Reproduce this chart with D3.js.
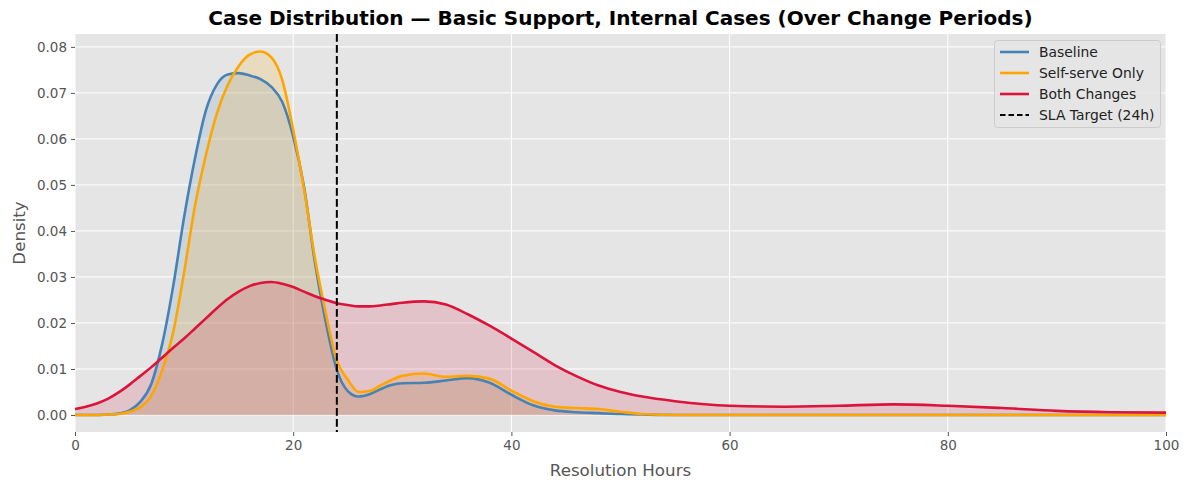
<!DOCTYPE html>
<html>
<head>
<meta charset="utf-8">
<script src="https://cdn.jsdelivr.net/npm/d3@7"></script>
<style>
  html, body { margin: 0; padding: 0; background: #fff; }
  svg { display: block; }
  text { font-family: "DejaVu Sans", sans-serif; }
</style>
</head>
<body>
<svg id="chart" width="1189" height="490"></svg>
<script>
const hours = [0,1,2,3,4,5,6,7,8,9,10,11,12,13,14,15,16,17,18,19,20,21,22,23,24,25,26,27,28,29,30,32,34,36,38,40,42,44,46,48,50,52,55,60,65,70,75,80,85,90,95,100];
const baseline = [0,0,0,0.0001,0.0003,0.001,0.0029,0.0068,0.0155,0.028,0.043,0.0558,0.0662,0.0718,0.0740,0.0743,0.0738,0.0730,0.0713,0.0680,0.0605,0.0495,0.033,0.020,0.0098,0.0052,0.0040,0.0045,0.0056,0.0065,0.0069,0.0070,0.0075,0.0080,0.0070,0.0044,0.0021,0.0010,0.0006,0.0004,0.0002,0.0001,0,0,0,0,0,0,0,0,0,0];
const selfServe = [0,0,0,0.0001,0.0002,0.0007,0.0017,0.0042,0.0098,0.018,0.031,0.0455,0.0565,0.0655,0.0717,0.0758,0.0783,0.0790,0.0777,0.0728,0.062,0.049,0.034,0.022,0.0118,0.0077,0.0050,0.0052,0.0064,0.0076,0.0085,0.0090,0.0083,0.0085,0.0079,0.0053,0.0030,0.0018,0.0015,0.0013,0.0007,0.0002,0,0,0,0,0,0,0,0,0,0];
const bothChanges = [0.0013,0.0018,0.0025,0.0035,0.0049,0.0066,0.0085,0.0104,0.0125,0.0146,0.0166,0.0188,0.0210,0.0232,0.0252,0.0268,0.0280,0.0287,0.0289,0.0285,0.0278,0.0268,0.0258,0.0250,0.0243,0.0239,0.0236,0.0236,0.0238,0.0241,0.0244,0.0247,0.0240,0.0219,0.0194,0.0166,0.0137,0.0108,0.0084,0.0064,0.0050,0.0040,0.0030,0.0020,0.0018,0.0020,0.0023,0.0020,0.0015,0.0009,0.0006,0.0005];
const seriesNames = ["Baseline","Self-serve Only","Both Changes"];
const seriesColors = ["#4682B4","#FFA500","#DC143C"];
const slaHours = 24;
const slaLabel = "SLA Target (24h)";
const xTicks = [0,20,40,60,80,100];
const yTicks = [0,0.01,0.02,0.03,0.04,0.05,0.06,0.07,0.08];

const svg = d3.select("#chart");
const m = {l:75, r:23, t:34, b:58};
const W = 1189, H = 490;
const x = d3.scaleLinear().domain([0,100]).range([m.l, W-m.r]);
const y = d3.scaleLinear().domain([-0.0037, 0.0828]).range([H-m.b, m.t]);

svg.append("rect").attr("x",m.l).attr("y",m.t).attr("width",W-m.r-m.l).attr("height",H-m.b-m.t).attr("fill","#E5E5E5");

// grid
const g = svg.append("g");
g.selectAll(".gx").data(xTicks).join("line")
  .attr("x1",d=>x(d)).attr("x2",d=>x(d)).attr("y1",m.t).attr("y2",H-m.b)
  .attr("stroke","#fff").attr("stroke-width",1);
g.selectAll(".gy").data(yTicks).join("line")
  .attr("y1",d=>y(d)).attr("y2",d=>y(d)).attr("x1",m.l).attr("x2",W-m.r)
  .attr("stroke","#fff").attr("stroke-width",1);

// axes
const xAxis = d3.axisBottom(x).tickValues(xTicks).tickFormat(d3.format("d")).tickSize(4).tickPadding(4);
const yAxis = d3.axisLeft(y).tickValues(yTicks).tickFormat(d3.format(".2f")).tickSize(4).tickPadding(4);
const ax = svg.append("g").attr("transform",`translate(0,${H-m.b})`).call(xAxis);
const ay = svg.append("g").attr("transform",`translate(${m.l},0)`).call(yAxis);
[ax,ay].forEach(a=>{
  a.select(".domain").remove();
  a.selectAll(".tick line").attr("stroke","#555").attr("stroke-width",1);
  a.selectAll(".tick text").attr("fill","#555").style("font-size","13.5px").style("font-family","DejaVu Sans");
});

const series = [baseline, selfServe, bothChanges];
const area = d3.area().curve(d3.curveMonotoneX).x((d,i)=>x(hours[i])).y0(y(0)).y1(d=>y(d));
const line = d3.line().curve(d3.curveMonotoneX).x((d,i)=>x(hours[i])).y(d=>y(d));
const clip = svg.append("clipPath").attr("id","pc").append("rect")
  .attr("x",m.l).attr("y",m.t).attr("width",W-m.r-m.l).attr("height",H-m.b-m.t);
const plot = svg.append("g").attr("clip-path","url(#pc)");
series.forEach((s,k)=>{
  plot.append("path").datum(s).attr("d",area).attr("fill",seriesColors[k]).attr("fill-opacity",0.16).attr("stroke","none");
});
series.forEach((s,k)=>{
  plot.append("path").datum(s).attr("d",line).attr("fill","none").attr("stroke",seriesColors[k]).attr("stroke-width",2.6).attr("stroke-linejoin","round");
});

plot.append("line").attr("x1",x(slaHours)).attr("x2",x(slaHours)).attr("y1",m.t).attr("y2",H-m.b)
  .attr("stroke","#000").attr("stroke-width",2).attr("stroke-dasharray","7.7,3.3");

// title and labels
svg.append("text").attr("x",(m.l+W-m.r)/2).attr("y",25).attr("text-anchor","middle")
  .style("font-size","20px").style("font-weight","bold").attr("fill","#000")
  .text("Case Distribution — Basic Support, Internal Cases (Over Change Periods)");
svg.append("text").attr("x",(m.l+W-m.r)/2).attr("y",476).attr("text-anchor","middle")
  .style("font-size","16.7px").attr("fill","#555").text("Resolution Hours");
svg.append("text").attr("transform",`translate(25,${(m.t+H-m.b)/2}) rotate(-90)`).attr("text-anchor","middle")
  .style("font-size","16.7px").attr("fill","#555").text("Density");

// legend
const lg = svg.append("g");
lg.append("rect").attr("x",994.5).attr("y",40.5).attr("width",166).attr("height",87).attr("rx",3)
  .attr("fill","#E5E5E5").attr("fill-opacity",0.8).attr("stroke","#cccccc").attr("stroke-width",1);
const legendItems = seriesNames.map((n,k)=>({name:n, color:seriesColors[k], dash:null})).concat([{name:slaLabel,color:"#000",dash:"5.5,3"}]);
legendItems.forEach((it,i)=>{
  const yy = 52 + i*21;
  lg.append("line").attr("x1",1000).attr("x2",1029).attr("y1",yy).attr("y2",yy)
    .attr("stroke",it.color).attr("stroke-width",it.dash?2:2.6).attr("stroke-dasharray",it.dash);
  lg.append("text").attr("x",1039).attr("y",yy+4.8).style("font-size","13.9px").attr("fill","#222").text(it.name);
});
</script>
</body>
</html>
